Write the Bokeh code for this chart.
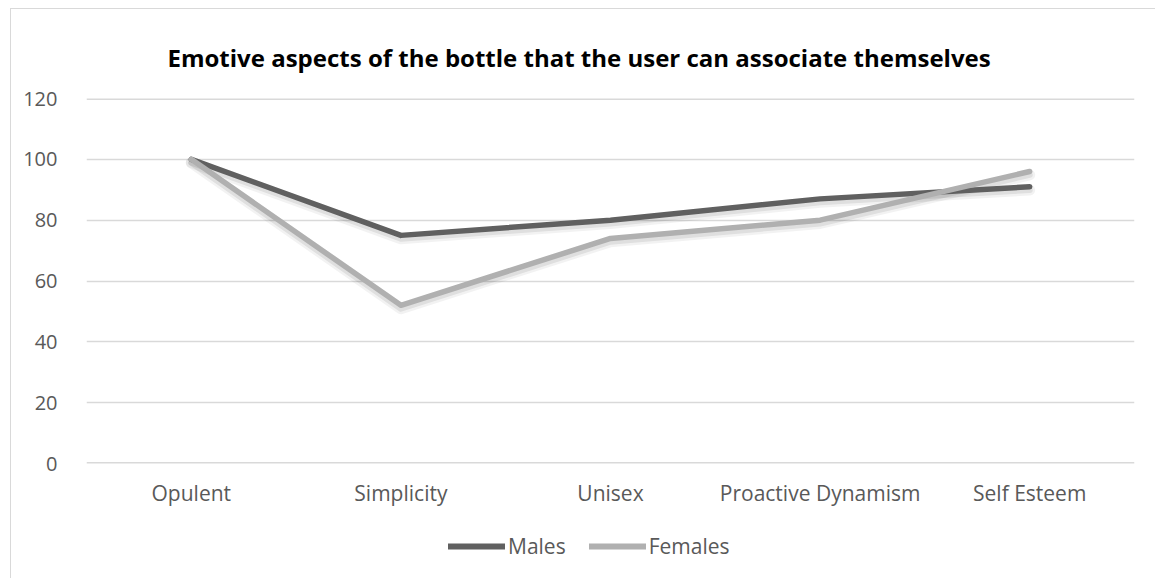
from bokeh.plotting import figure
from bokeh.layouts import column
from bokeh.models import FactorRange, Legend, LegendItem, SingleIntervalTicker, Range1d, Span
from bokeh.embed import file_html
from bokeh.resources import INLINE

categories = ["Opulent", "Simplicity", "Unisex", "Proactive Dynamism", "Self Esteem"]
males = [100, 75, 80, 87, 91]
females = [100, 52, 74, 80, 96]
series_names = ["Males", "Females"]
y_min, y_max, y_step = 0, 120, 20

FONT = "Open Sans"
LABEL_COLOR = "#595959"
GRID_COLOR = "#d9d9d9"
MALE_COLOR = "#606060"
FEMALE_COLOR = "#b0b0b0"
W = 1145

p = figure(
    width=W, height=510,
    x_range=FactorRange(*categories),
    y_range=Range1d(y_min, y_max),
    output_backend="svg",
    toolbar_location=None,
    min_border_left=75, min_border_right=22,
    min_border_top=89, min_border_bottom=56,
    title="Emotive aspects of the bottle that the user can associate themselves",
)

p.title.text_font = FONT
p.title.text_font_size = "24px"
p.title.text_font_style = "bold"
p.title.text_color = "#000000"
p.title.align = "left"
p.title.offset = 81
p.title.standoff = 50

p.outline_line_color = None
p.background_fill_color = "white"
p.border_fill_color = "white"

p.xgrid.grid_line_color = None
p.ygrid.grid_line_color = GRID_COLOR
p.ygrid.grid_line_width = 1.5
p.yaxis.ticker = SingleIntervalTicker(interval=y_step)
# grid lines on the range edges
for v in (y_min, y_max):
    p.add_layout(Span(location=v, dimension="width", line_color=GRID_COLOR, line_width=3))

for ax in (p.xaxis, p.yaxis):
    ax.axis_line_color = None
    ax.major_tick_line_color = None
    ax.minor_tick_line_color = None
    ax.major_label_text_font = FONT
    ax.major_label_text_color = LABEL_COLOR
p.yaxis.major_label_text_font_size = "20px"
p.xaxis.major_label_text_font_size = "21px"
p.yaxis.major_label_standoff = 23
p.xaxis.major_label_standoff = 9

# soft drop shadow: same series on a range shifted by about 3 px
p.extra_y_ranges = {"shadow": Range1d(y_min + 1.1, y_max + 1.1)}
for ys in (males, females):
    p.line(categories, ys, line_color="black", line_alpha=0.05, line_width=11,
           line_join="round", line_cap="round", y_range_name="shadow")
    p.line(categories, ys, line_color="black", line_alpha=0.08, line_width=6,
           line_join="round", line_cap="round", y_range_name="shadow")

p.line(categories, males, line_color=MALE_COLOR, line_width=5.5,
       line_join="round", line_cap="round")
p.line(categories, females, line_color=FEMALE_COLOR, line_width=5.5,
       line_join="round", line_cap="round")

# legend strip under the chart; its key lines fall outside this strip's range
lg = figure(width=W, height=60, output_backend="svg", toolbar_location=None,
            x_range=(0, 1), y_range=(0, 1), min_border=0)
lg.axis.visible = False
lg.grid.visible = False
lg.outline_line_color = None
lg.border_fill_color = "white"
idx = list(range(len(categories)))
k_m = lg.line(idx, males, line_color=MALE_COLOR, line_width=6, line_cap="round")
k_f = lg.line(idx, females, line_color=FEMALE_COLOR, line_width=6, line_cap="round")
legend = Legend(
    items=[LegendItem(label=series_names[0], renderers=[k_m]),
           LegendItem(label=series_names[1], renderers=[k_f])],
    orientation="horizontal",
    location=(362, 19),
    border_line_color=None,
    background_fill_alpha=0,
    label_text_font=FONT,
    label_text_font_size="21px",
    label_text_color=LABEL_COLOR,
    glyph_width=57,
    label_standoff=3,
    spacing=23,
    margin=0,
    padding=4,
)
lg.add_layout(legend, "center")

page = column(p, lg, spacing=0)
page.margin = (8, 0, 0, 10)
page.styles = {"border-top": "1px solid #d9d9d9", "border-left": "1px solid #d9d9d9"}

open("out.html", "w").write(file_html(page, INLINE))
